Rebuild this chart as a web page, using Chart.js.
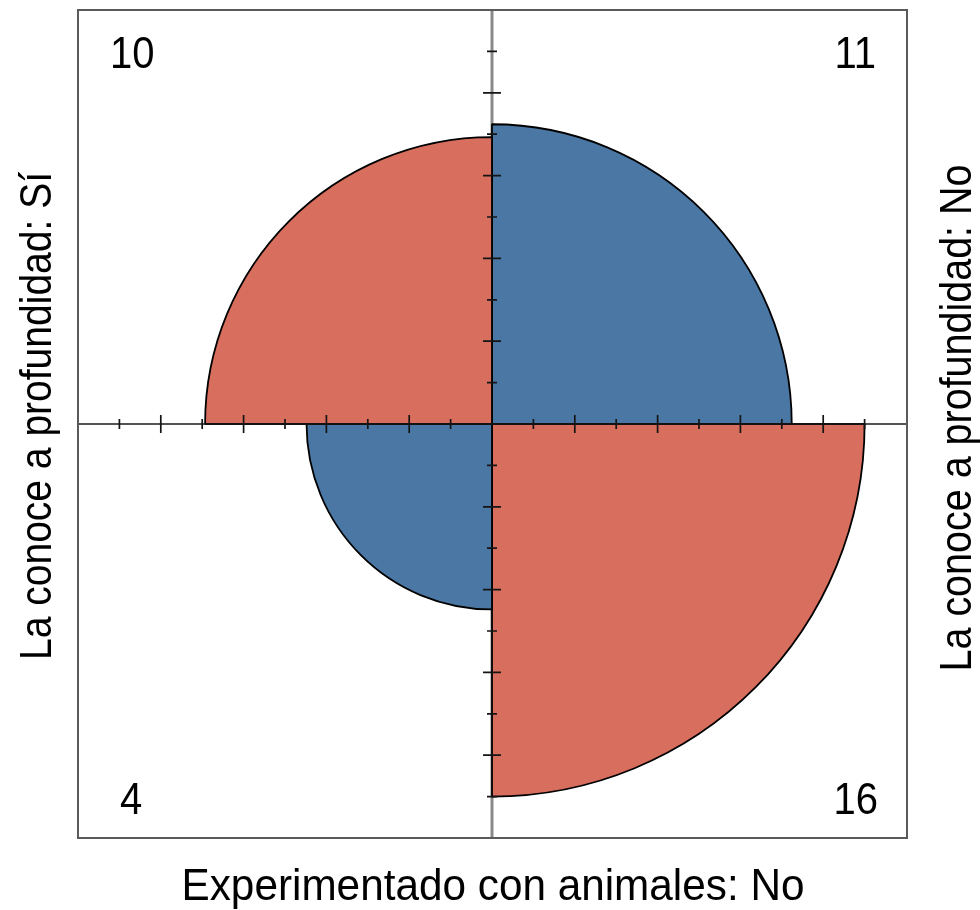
<!DOCTYPE html>
<html>
<head>
<meta charset="utf-8">
<script src="https://cdn.jsdelivr.net/npm/chart.js@4"></script>
<style>
  html, body { margin: 0; padding: 0; background: #ffffff; }
  #wrap { width: 980px; height: 910px; }
</style>
</head>
<body>
<div id="wrap"><canvas id="c" width="980" height="910"></canvas></div>
<script>
// Quadrants listed clockwise from the top-right (the order a polar area chart draws them)
const quadrants   = ['Sí / No', 'No / No', 'No / Sí', 'Sí / Sí'];
const counts      = [11, 16, 4, 10];          // cell frequencies printed in the corners
const radii       = [7.24, 9.0, 4.48, 6.93];  // standardized radius of each quarter circle (axis units)
const fillColors  = ['#4a77a4', '#d86e5d', '#4a77a4', '#d86e5d'];
const axisTicks   = [1, 2, 3, 4, 5, 6, 7, 8, 9];
const rowTitles   = ['La conoce a profundidad: Sí', 'La conoce a profundidad: No'];
const colTitle    = 'Experimentado con animales: No';

const FONT = '"Liberation Sans", Arial, sans-serif';

// draws text condensed so that it spans the given length along its direction
function drawText(ctx, text, x, y, opts) {
  ctx.save();
  ctx.translate(x, y);
  if (opts.rot) ctx.rotate(opts.rot);
  const w = ctx.measureText(text).width;
  const sx = opts.len ? opts.len / w : (opts.sx || 1);
  ctx.scale(sx, 1);
  ctx.textAlign = opts.align || 'center';
  ctx.textBaseline = 'alphabetic';
  ctx.fillText(text, 0, 0);
  ctx.restore();
}

const fourfoldFrame = {
  id: 'fourfoldFrame',
  beforeDatasetsDraw(chart) {
    const ctx = chart.ctx, a = chart.chartArea, r = chart.scales.r;
    ctx.save();
    ctx.strokeStyle = '#8a8a8a';
    ctx.lineWidth = 3;
    ctx.beginPath();
    ctx.moveTo(r.xCenter, a.top);
    ctx.lineTo(r.xCenter, a.bottom);
    ctx.stroke();
    ctx.restore();
  },
  afterDatasetsDraw(chart) {
    const ctx = chart.ctx, a = chart.chartArea, r = chart.scales.r;
    const cx = r.xCenter, cy = r.yCenter;
    ctx.save();
    // horizontal axis
    ctx.strokeStyle = '#1a1a1a';
    ctx.lineWidth = 1.6;
    ctx.beginPath();
    ctx.moveTo(a.left, cy);
    ctx.lineTo(a.right, cy);
    ctx.stroke();
    // tick marks
    ctx.lineWidth = 1.7;
    ctx.strokeStyle = '#151515';
    axisTicks.forEach(v => {
      const d = r.getDistanceFromCenterForValue(v);
      const half = (v % 2 === 0) ? 9 : 5;
      ctx.beginPath();
      [-1, 1].forEach(s => {
        ctx.moveTo(cx + s * d, cy - half); ctx.lineTo(cx + s * d, cy + half);
        ctx.moveTo(cx - half, cy + s * d); ctx.lineTo(cx + half, cy + s * d);
      });
      ctx.stroke();
    });
    // frame
    ctx.strokeStyle = '#5a5a5a';
    ctx.lineWidth = 2;
    ctx.strokeRect(a.left, a.top, a.right - a.left, a.bottom - a.top);

    // corner counts
    ctx.fillStyle = '#000';
    ctx.font = '45px ' + FONT;
    const corner = [
      { i: 0, x: a.right - 31, y: a.top + 58, al: 'right' },
      { i: 1, x: a.right - 29, y: a.bottom - 24, al: 'right' },
      { i: 2, x: a.left + 42, y: a.bottom - 24, al: 'left' },
      { i: 3, x: a.left + 32, y: a.top + 58, al: 'left' }
    ];
    corner.forEach(c => drawText(ctx, String(counts[c.i]), c.x, c.y, { align: c.al, sx: 0.89 }));

    // titles
    drawText(ctx, colTitle, cx + 1, a.bottom + 62, { len: 623 });
    drawText(ctx, rowTitles[0], a.left - 27, cy - 8, { rot: -Math.PI / 2, len: 488 });
    drawText(ctx, rowTitles[1], a.right + 64, cy - 6, { rot: -Math.PI / 2, len: 507 });
    ctx.restore();
  }
};

new Chart(document.getElementById('c'), {
  type: 'polarArea',
  data: {
    labels: quadrants,
    datasets: [{
      data: radii,
      backgroundColor: fillColors,
      borderColor: '#000000',
      borderWidth: 1.8
    }]
  },
  options: {
    responsive: false,
    devicePixelRatio: 1,
    animation: false,
    layout: { padding: { left: 78, top: 10, right: 73, bottom: 72 } },
    scales: {
      r: {
        min: 0, max: 10,
        ticks: { display: false },
        grid: { display: false },
        angleLines: { display: false },
        pointLabels: { display: false }
      }
    },
    plugins: {
      legend: { display: false },
      tooltip: { enabled: false }
    }
  },
  plugins: [fourfoldFrame]
});
</script>
</body>
</html>
